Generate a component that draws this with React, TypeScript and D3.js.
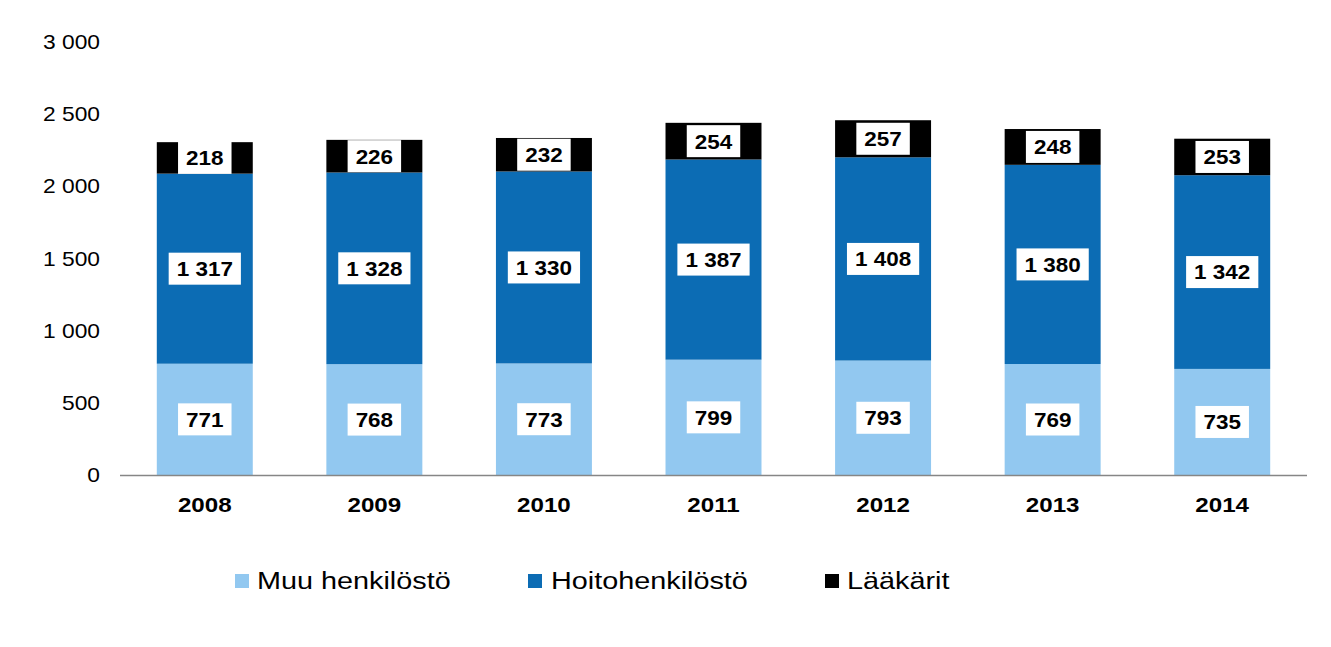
import React from 'react';
import * as d3 from 'd3';

const years = ['2008', '2009', '2010', '2011', '2012', '2013', '2014'];
const muu = [771, 768, 773, 799, 793, 769, 735];
const hoito = [1317, 1328, 1330, 1387, 1408, 1380, 1342];
const laakarit = [218, 226, 232, 254, 257, 248, 253];
const seriesNames = ['Muu henkilöstö', 'Hoitohenkilöstö', 'Lääkärit'];
const seriesColors = ['#92C8F0', '#0C6CB4', '#000000'];
const yTicks = [0, 500, 1000, 1500, 2000, 2500, 3000];

const W = 1331;
const H = 647;
const font = 'Arial, "Liberation Sans", sans-serif';
const fmt = (v: number) => d3.format(',')(v).replace(/,/g, ' ');

// text slightly stretched sideways, like the original picture
function SText(props: {
  x: number; y: number; size: number; sx: number; anchor?: string; bold?: boolean; children: string;
}) {
  const { x, y, size, sx, anchor = 'start', bold = false, children } = props;
  return (
    <text
      transform={`translate(${x},${y}) scale(${sx},1)`}
      dy="0.35em"
      textAnchor={anchor as any}
      fontFamily={font}
      fontSize={size}
      fontWeight={bold ? 'bold' : 'normal'}
      fill="#000"
    >
      {children}
    </text>
  );
}

export default function App() {
  const x = d3.scaleBand().domain(years).range([120, 1307]).paddingInner(0.434).paddingOuter(0.217);
  const y = d3.scaleLinear().domain([0, 3000]).range([475, 42]);

  const rows = years.map((yr, i) => ({ year: yr, s0: muu[i], s1: hoito[i], s2: laakarit[i] }));
  const stack = d3.stack<any>().keys(['s0', 's1', 's2'])(rows);

  const labelSize = 21;
  const labelSx = 1.07;
  const digitW = 0.556 * labelSize * labelSx;

  return (
    <svg width={W} height={H} style={{ position: 'absolute', left: 0, top: 0, background: '#fff' }}>
      {yTicks.map((t) => (
        <SText key={t} x={100} y={y(t)} size={20} sx={1.14} anchor="end">
          {fmt(t)}
        </SText>
      ))}
      {stack.map((layer, si) => (
        <g key={si}>
          {layer.map((d, i) => (
            <rect
              key={i}
              x={x(years[i])}
              y={y(d[1])}
              width={x.bandwidth()}
              height={y(d[0]) - y(d[1])}
              fill={seriesColors[si]}
            />
          ))}
        </g>
      ))}
      <line x1={120} x2={1307} y1={475.5} y2={475.5} stroke="#868686" strokeWidth={1.5} />
      {stack.map((layer, si) => (
        <g key={'l' + si}>
          {layer.map((d, i) => {
            const v = d[1] - d[0];
            const label = fmt(v);
            const cx = (x(years[i]) as number) + x.bandwidth() / 2;
            const cy = (y(d[0]) + y(d[1])) / 2;
            const digits = label.replace(/ /g, '').length;
            const spaces = label.length - digits;
            const tw = digits * digitW + spaces * digitW * 0.5;
            const bw = tw + 16;
            return (
              <g key={i}>
                <rect x={cx - bw / 2} y={cy - 16} width={bw} height={32} fill="#fff" />
                <SText x={cx} y={cy} size={labelSize} sx={labelSx} anchor="middle" bold>
                  {label}
                </SText>
              </g>
            );
          })}
        </g>
      ))}
      {years.map((yr) => (
        <SText key={yr} x={(x(yr) as number) + x.bandwidth() / 2} y={505} size={21} sx={1.15} anchor="middle" bold>
          {yr}
        </SText>
      ))}
      {seriesNames.map((n, i) => {
        const sq = [235, 528, 825][i];
        const tx = [257, 551, 847][i];
        return (
          <g key={n}>
            <rect x={sq} y={574} width={14} height={14} fill={seriesColors[i]} />
            <SText x={tx} y={581} size={24} sx={1.2}>
              {n}
            </SText>
          </g>
        );
      })}
    </svg>
  );
}
